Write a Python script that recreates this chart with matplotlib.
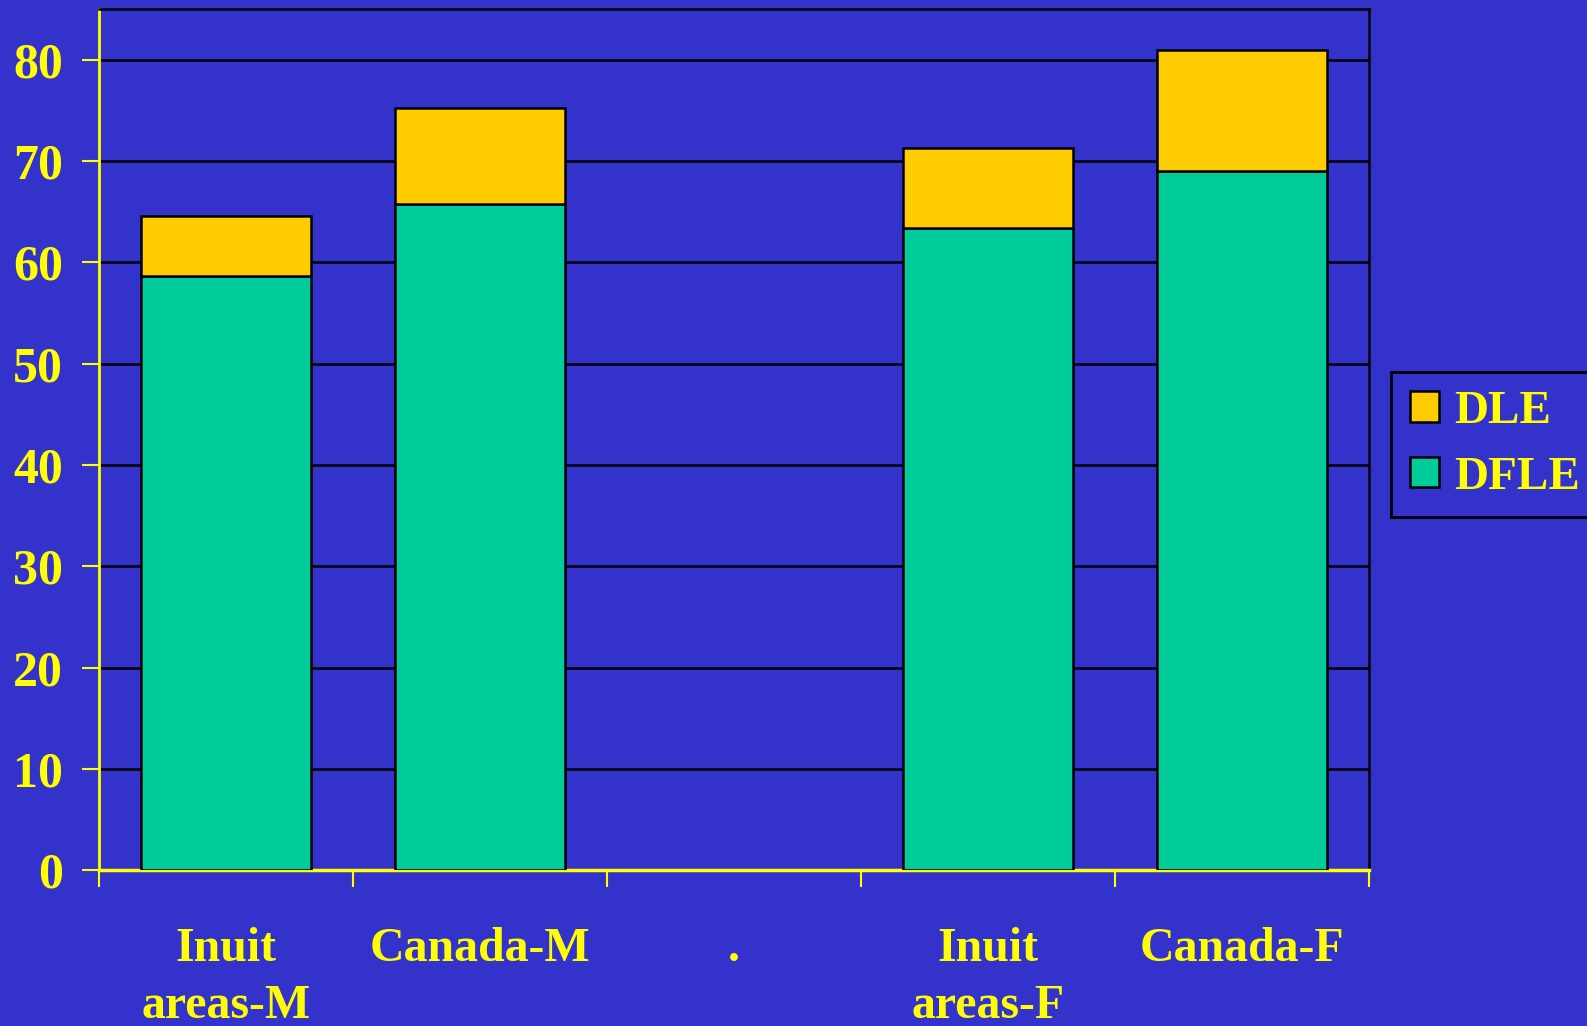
import matplotlib.pyplot as plt
import numpy as np

categories = ["Inuit\nareas-M", "Canada-M", ".", "Inuit\nareas-F", "Canada-F"]
dfle = [58.7, 65.8, np.nan, 63.4, 69.0]
dle = [5.9, 9.4, np.nan, 7.9, 12.0]

bg = "#3333CC"
yellow = "#FFFF00"
dle_color = "#FFCC00"
dfle_color = "#00CC99"

plt.rcParams['font.family'] = ['Liberation Serif', 'DejaVu Serif']
plt.rcParams['font.weight'] = 'bold'

fig = plt.figure(figsize=(15.87, 10.26), dpi=100)
fig.patch.set_facecolor(bg)
ax = fig.add_axes([0.0624, 0.152, 0.8002, 0.839])
ax.set_facecolor(bg)

x = np.arange(len(categories))
b1 = ax.bar(x, dfle, width=0.67, color=dfle_color, edgecolor="black", linewidth=1.8, zorder=3, label="DFLE")
b2 = ax.bar(x, dle, width=0.67, bottom=dfle, color=dle_color, edgecolor="black", linewidth=1.8, zorder=3, label="DLE")

ax.set_xlim(-0.5, len(categories) - 0.5)
ax.set_ylim(0, 85)
ax.set_yticks(np.arange(0, 81, 10))
ax.yaxis.grid(True, color="black", linewidth=1.8, zorder=1)
ax.set_axisbelow(True)

# category labels sit between tick marks at slot boundaries
ax.set_xticks(x)
ax.set_xticklabels(categories, fontsize=34.5, color=yellow, fontweight='bold', linespacing=1.38)
ax.tick_params(axis='x', length=0, pad=41)
ax.set_xticks(np.arange(-0.5, len(categories)), minor=True)
ax.tick_params(axis='x', which='minor', length=12, width=1.5, color=yellow, direction='out')

ax.tick_params(axis='y', length=12, width=1.5, color=yellow, labelcolor=yellow, labelsize=36, pad=14)
for lbl in ax.get_yticklabels():
    lbl.set_fontweight('bold')

ax.spines['left'].set_color(yellow)
ax.spines['bottom'].set_color(yellow)
ax.spines['left'].set_linewidth(2)
ax.spines['bottom'].set_linewidth(2.5)
ax.spines['top'].set_color("black")
ax.spines['right'].set_color("black")
ax.spines['top'].set_linewidth(1.8)
ax.spines['right'].set_linewidth(1.8)

leg = ax.legend(handles=[b2, b1], labels=["DLE", "DFLE"], loc='upper left',
                bbox_to_anchor=(0.8765, 0.6374), bbox_transform=fig.transFigure,
                fontsize=34, facecolor=bg, edgecolor="black", framealpha=1,
                fancybox=False, borderaxespad=0, handlelength=0.62, handleheight=0.62,
                handletextpad=0.32, labelspacing=0.5, borderpad=0.4)
leg.get_frame().set_linewidth(2)
for t in leg.get_texts():
    t.set_color(yellow)
    t.set_fontweight('bold')

fig.savefig("out.png", dpi=100, facecolor=bg)
